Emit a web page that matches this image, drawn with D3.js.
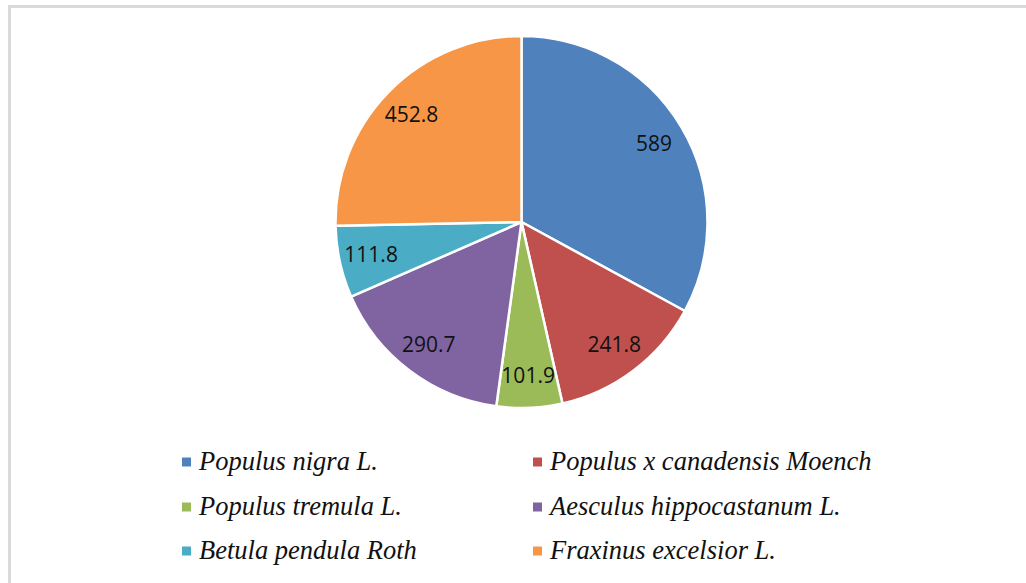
<!DOCTYPE html>
<html>
<head>
<meta charset="utf-8">
<script src="https://cdn.jsdelivr.net/npm/d3@7"></script>
<style>
  body { margin: 0; background: #fff; }
  svg { display: block; }
</style>
</head>
<body>
<svg id="chart" width="1026" height="583"></svg>
<script>
// Species and their values
const species = [
    "Populus nigra L.",
    "Populus x canadensis Moench",
    "Populus tremula L.",
    "Aesculus hippocastanum L.",
    "Betula pendula Roth",
    "Fraxinus excelsior L."
];
const values = [589, 241.8, 101.9, 290.7, 111.8, 452.8];
const valueLabels = ["589", "241.8", "101.9", "290.7", "111.8", "452.8"];
const colors = ["#4F81BD", "#C0504D", "#9BBB59", "#8064A2", "#4BACC6", "#F79646"];

const data = species.map((name, i) => ({ name: name, value: values[i], label: valueLabels[i] }));

const svg = d3.select("#chart"),
    width = +svg.attr("width"),
    height = +svg.attr("height");

// light frame round the chart area
svg.append("rect")
    .attr("x", 9.5)
    .attr("y", 6.5)
    .attr("width", width + 20)
    .attr("height", height + 20)
    .attr("fill", "#fff")
    .attr("stroke", "#d9d9d9")
    .attr("stroke-width", 3);

const cx = 521.5, cy = 222, radius = 186;

const color = d3.scaleOrdinal().domain(species).range(colors);

const pie = d3.pie().sort(null).value(d => d.value);
const arc = d3.arc().innerRadius(0).outerRadius(radius);
const labelArc = d3.arc().innerRadius(154).outerRadius(154);

const g = svg.append("g")
    .attr("transform", `translate(${cx},${cy})`);

const arcs = g.selectAll(".arc")
    .data(pie(data))
    .enter().append("g")
    .attr("class", "arc");

arcs.append("path")
    .attr("d", arc)
    .attr("fill", d => color(d.data.name))
    .attr("stroke", "#fff")
    .attr("stroke-width", 2.5)
    .attr("stroke-linejoin", "round");

arcs.append("text")
    .attr("transform", d => `translate(${labelArc.centroid(d)})`)
    .attr("dy", "0.35em")
    .style("text-anchor", "middle")
    .style("font-family", "'Open Sans', 'Noto Sans', sans-serif")
    .style("font-size", "21px")
    .style("fill", "#111")
    .text(d => d.data.label);

// Legend: two columns, three rows
const legendCols = [182, 533],
    legendRows = [462, 507, 551];

const legend = svg.selectAll(".legend-item")
    .data(data)
    .enter().append("g")
    .attr("class", "legend-item")
    .attr("transform", (d, i) => `translate(${legendCols[i % 2]},${legendRows[Math.floor(i / 2)]})`);

legend.append("rect")
    .attr("x", 0)
    .attr("y", -4.5)
    .attr("width", 9)
    .attr("height", 9)
    .attr("fill", d => color(d.name));

legend.append("text")
    .attr("x", 17)
    .attr("y", 8)
    .style("font-family", "'Liberation Serif', 'Times New Roman', serif")
    .style("font-style", "italic")
    .style("font-size", "26.5px")
    .style("fill", "#111")
    .text(d => d.name);
</script>
</body>
</html>
